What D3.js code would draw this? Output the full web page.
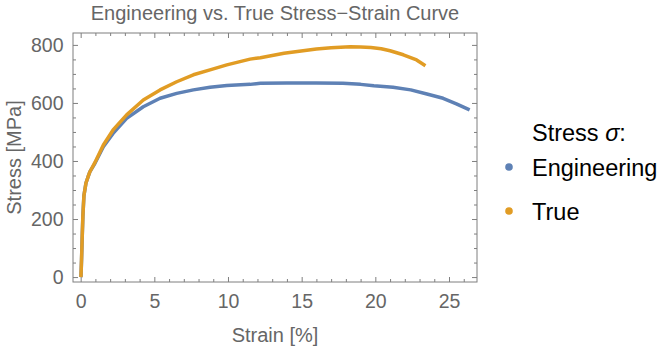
<!DOCTYPE html>
<html>
<head>
<meta charset="utf-8">
<style>
    body { margin: 0; background: #fff; }
    svg { font-family: "Liberation Sans", Arial, sans-serif; }
    .axis text { fill: #666; font-size: 19.5px; }
    .axis line { stroke: #7f7f7f; }
    .axis path { display: none; }
</style>
</head>
<body>
<svg class="chart"></svg>
<script src="https://cdn.jsdelivr.net/npm/d3@7/dist/d3.min.js"></script>
<script>
    // values (strain in %, stress in MPa)
    var engStrain = [0.02, 0.06, 0.1, 0.15, 0.22, 0.36, 0.5, 0.63, 0.97, 1.54, 2.2, 3.12, 4.25, 5.39, 6.52, 7.65,
                     8.78, 9.92, 11.5, 12.2, 14.0, 16.0, 17.8, 19.0, 19.9, 21.2, 22.4, 23.5, 24.6, 25.5, 26.4];
    var engStress = [0, 60, 130, 210, 280, 324, 345, 363, 392, 449, 495, 547, 587, 616, 633, 645,
                     654, 660, 664, 668, 669, 669, 668, 664, 659, 654, 645, 631, 616, 597, 576];

    var trueStrain = [0.02, 0.06, 0.1, 0.15, 0.22, 0.36, 0.5, 0.63, 0.97, 1.54, 2.2, 3.12, 4.25, 5.39, 6.52, 7.65,
                      8.78, 9.92, 11.5, 12.2, 13.8, 16.0, 17.0, 18.3, 19.0, 19.7, 20.4, 21.0, 21.9, 22.8, 23.4];
    var trueStress = [0, 60, 130, 210, 280, 324, 345, 363, 395, 455, 507, 559, 610, 645, 673, 697,
                      714, 731, 751, 756, 771, 786, 790, 794, 793, 791, 787, 780, 766, 748, 728];

    var seriesNames = ['Engineering', 'True'];
    var seriesColors = ['#5e81b5', '#e19c24'];
    var xTicks = [0, 5, 10, 15, 20, 25];
    var yTicks = [0, 200, 400, 600, 800];

    var width = 672,
        height = 350,
        frame = {left: 73, right: 477, top: 33, bottom: 282};

    var x = d3.scaleLinear()
        .domain([-0.52, 26.9])
        .range([frame.left, frame.right]);

    var y = d3.scaleLinear()
        .domain([-17, 841])
        .range([frame.bottom, frame.top]);

    var svg = d3.select('.chart')
        .attr('width', width)
        .attr('height', height);

    // minor ticks, all four sides
    var xMinor = d3.range(0, 27).filter(function (d) { return d % 5 !== 0; });
    var yMinor = d3.range(0, 850, 50).filter(function (d) { return d % 200 !== 0; });

    function addAxis(axis, tx, ty) {
        svg.append('g')
            .attr('class', 'axis')
            .attr('transform', 'translate(' + tx + ',' + ty + ')')
            .call(axis);
    }

    addAxis(d3.axisBottom(x).tickValues(xMinor).tickFormat('').tickSize(-3), 0, frame.bottom);
    addAxis(d3.axisTop(x).tickValues(xMinor).tickFormat('').tickSize(-3), 0, frame.top);
    addAxis(d3.axisLeft(y).tickValues(yMinor).tickFormat('').tickSize(-3), frame.left, 0);
    addAxis(d3.axisRight(y).tickValues(yMinor).tickFormat('').tickSize(-3), frame.right, 0);

    addAxis(d3.axisBottom(x).tickValues(xTicks).tickSize(-5).tickPadding(12), 0, frame.bottom);
    addAxis(d3.axisTop(x).tickValues(xTicks).tickFormat('').tickSize(-5), 0, frame.top);
    addAxis(d3.axisLeft(y).tickValues(yTicks).tickSize(-5).tickPadding(9.5), frame.left, 0);
    addAxis(d3.axisRight(y).tickValues(yTicks).tickFormat('').tickSize(-5), frame.right, 0);

    svg.append('rect')
        .attr('x', frame.left)
        .attr('y', frame.top)
        .attr('width', frame.right - frame.left)
        .attr('height', frame.bottom - frame.top)
        .attr('fill', 'none')
        .attr('stroke', '#7f7f7f');

    var line = d3.line()
        .x(function (d) { return x(d[0]); })
        .y(function (d) { return y(d[1]); });

    var series = [
        d3.zip(engStrain, engStress),
        d3.zip(trueStrain, trueStress)
    ];

    svg.append('g')
        .selectAll('path')
        .data(series)
        .enter()
        .append('path')
        .attr('d', line)
        .attr('fill', 'none')
        .attr('stroke', function (d, i) { return seriesColors[i]; })
        .attr('stroke-width', 3.5)
        .attr('stroke-linejoin', 'round');

    // title and axis labels
    svg.append('text')
        .attr('x', (frame.left + frame.right) / 2)
        .attr('y', 20)
        .attr('text-anchor', 'middle')
        .attr('fill', '#666')
        .style('font-size', '20px')
        .text('Engineering vs. True Stress\u2212Strain Curve');

    svg.append('text')
        .attr('x', (frame.left + frame.right) / 2)
        .attr('y', 342)
        .attr('text-anchor', 'middle')
        .attr('fill', '#666')
        .style('font-size', '20px')
        .text('Strain [%]');

    svg.append('text')
        .attr('transform', 'translate(21,' + (frame.top + frame.bottom) / 2 + ') rotate(-90)')
        .attr('text-anchor', 'middle')
        .attr('fill', '#666')
        .style('font-size', '20px')
        .text('Stress [MPa]');

    // legend
    var legend = svg.append('g').attr('transform', 'translate(532,0)');

    var lt = legend.append('text')
        .attr('x', 0)
        .attr('y', 141)
        .style('font-size', '23.5px')
        .attr('fill', '#000');
    lt.append('tspan').text('Stress ');
    lt.append('tspan').style('font-style', 'italic').text('\u03c3');
    lt.append('tspan').text(':');

    var items = legend.selectAll('.item')
        .data(seriesNames)
        .enter()
        .append('g')
        .attr('class', 'item')
        .attr('transform', function (d, i) { return 'translate(0,' + (176 + i * 44) + ')'; });

    items.append('circle')
        .attr('cx', -23)
        .attr('cy', -9)
        .attr('r', 3.8)
        .attr('fill', function (d, i) { return seriesColors[i]; });

    items.append('text')
        .style('font-size', '23.5px')
        .attr('fill', '#000')
        .text(function (d) { return d; });
</script>
</body>
</html>
